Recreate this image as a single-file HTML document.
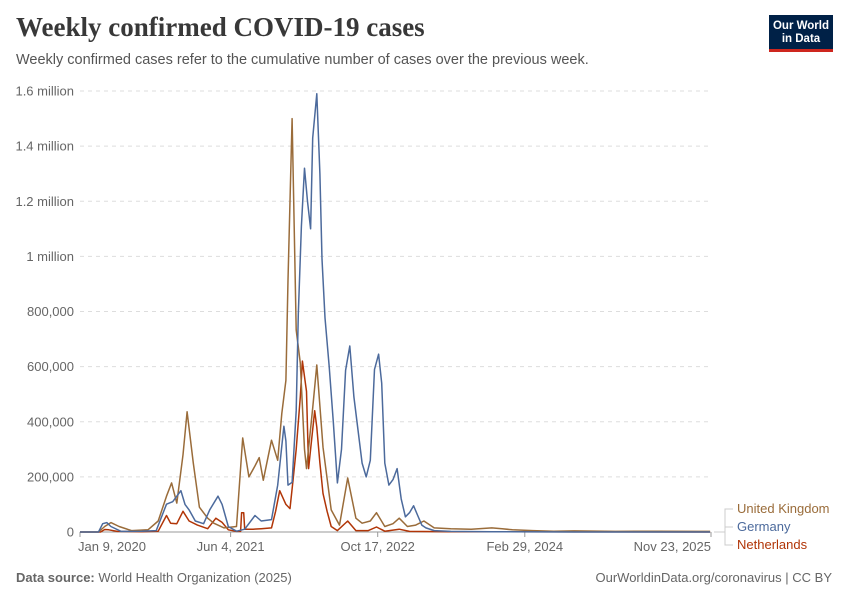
<!DOCTYPE html>
<html><head><meta charset="utf-8">
<style>
body{margin:0;background:#fff;font-family:"Liberation Sans",sans-serif;}
#wrap{position:relative;width:850px;height:600px;overflow:hidden;}
.title{position:absolute;left:16px;top:12px;font-family:"Liberation Serif",serif;font-weight:bold;font-size:27px;color:#383838;}
.sub{position:absolute;left:16px;top:52px;font-size:14.5px;color:#555;}
.logo{position:absolute;left:769px;top:15px;width:64px;height:37px;background:#002147;border-bottom:3px solid #ce261e;color:#fff;font-size:11.5px;font-weight:bold;text-align:center;line-height:13px;box-sizing:border-box;padding-top:5px;}
.foot{position:absolute;top:570px;font-size:13px;color:#666;}
</style></head><body>
<div id="wrap">
<div class="title">Weekly confirmed COVID-19 cases</div>
<div class="sub">Weekly confirmed cases refer to the cumulative number of cases over the previous week.</div>
<div class="logo">Our World<br>in Data</div>
<svg id="chart" width="850" height="600" style="position:absolute;left:0;top:0"></svg>
<div class="foot" style="left:16px"><b>Data source:</b> World Health Organization (2025)</div>
<div class="foot" style="right:18px">OurWorldinData.org/coronavirus | CC BY</div>
</div>
<script>
const yTicks=[0,200000,400000,600000,800000,1000000,1200000,1400000,1600000];
const yTickLabels=["0","200,000","400,000","600,000","800,000","1 million","1.2 million","1.4 million","1.6 million"];
const xTickDays=[0,512,1012,1512,2145];
const xTickLabels=["Jan 9, 2020","Jun 4, 2021","Oct 17, 2022","Feb 29, 2024","Nov 23, 2025"];
// week indices since Jan 9 2020, values in thousands
const ukWeeks=[0,9,12,15,19,25,33,38,42,44.5,47,50,52,55,58,62,65,70,76,79,82,85,87,89,93,96,98,100,101,103,105,107,109,110,113,115,118,122,126,130,134,137,141,144,148,152,155,159,163,167,172,180,190,200,205,210,220,230,240,260,280,300,306];
const ukVals=[0,0,20,34,20,5,8,40,130,178,105,280,436,250,90,50,32,15,20,341,200,240,270,188,333,260,430,550,914,1500,733,613,300,230,450,606,308,80,25,196,50,32,40,70,20,30,50,20,25,40,15,12,10,15,12,8,5,3,4,2,3,2,2];
const deWeeks=[0,9,11,13,15,20,30,37,42,45,49,51,53,56,60,63,67,69,72,76,80,85,88,93,96,99,100,101,103,105,106,107.5,109,110.5,112,113,115,116.5,117.5,119,121,123,125,127,129,131,133,135,137,139,141,143,145,146.5,148,150,152,154,156,158,160,162,164,166,168,172,180,200,240,306];
const deVals=[0,0,30,34,20,2,3,5,101,110,150,100,80,40,30,80,130,100,20,3,10,60,40,45,170,384,330,170,180,440,790,1110,1320,1200,1100,1430,1590,1300,990,777,600,400,178,300,587,675,490,370,250,200,260,590,645,540,250,170,190,230,120,55,70,95,60,25,15,5,2,1,0,0];
const nlWeeks=[0,10,12,14,18,30,38,42,44,47,50,53,57,62,66,69,72,76,78,78.5,79.5,80,84,88,93,95,97,100,102,103.5,105,107,108,110,111,112,114,115,116.5,118,120,122,125,130,134,140,144,148,155,160,180,306];
const nlVals=[0,0,9,8,2,1,3,60,32,30,75,40,25,12,50,35,8,2,2,70,70,10,10,12,15,75,150,100,85,190,300,490,620,510,230,300,440,380,250,140,75,20,5,40,5,5,18,3,10,2,1,0];
const svg=document.getElementById('chart');
const NS='http://www.w3.org/2000/svg';
const X0=80,X1=711,Y0=532,Y1=91;
const xDay=d=>X0+d*(X1-X0)/2145;
const xWeek=w=>xDay(w*7);
const yV=v=>Y0-(v/1600000)*(Y0-Y1);
function mk(tag,attrs){const e=document.createElementNS(NS,tag);for(const k in attrs)e.setAttribute(k,attrs[k]);svg.appendChild(e);return e;}
yTicks.forEach((t,i)=>{
 if(t>0){const g=mk('line',{x1:X0,x2:710,y1:yV(t),y2:yV(t),stroke:'#ddd','stroke-dasharray':'4,4'});
 
 }
 const l=mk('text',{x:74,y:yV(t)+4.5,'text-anchor':'end','font-size':13,fill:'#666','font-family':'Liberation Sans, sans-serif'});
 l.textContent=yTickLabels[i];
 
 
});
const ax=mk('line',{x1:X0,x2:710,y1:Y0,y2:Y0,stroke:'#999'});


xTickDays.forEach((d,i)=>{
 const tk=mk('line',{x1:xDay(d),x2:xDay(d),y1:Y0,y2:Y0+5,stroke:'#999'});
 
 
 const anchor=i==0?'start':(i==xTickDays.length-1?'end':'middle');
 const t=mk('text',{x:i==0?xDay(d)-2:xDay(d),y:551,'text-anchor':anchor,'font-size':13,fill:'#666','font-family':'Liberation Sans, sans-serif'});
 t.textContent=xTickLabels[i];
 
 
});
function series(ws,vs,color,name){
 const pts=ws.map((w,i)=>xWeek(w).toFixed(1)+','+yV(vs[i]*1000).toFixed(1)).join(' ');
 const p=mk('polyline',{points:pts,fill:'none',stroke:color,'stroke-width':1.5,'stroke-linejoin':'round'});
 
 
}
series(nlWeeks,nlVals,'#b13507','netherlands-line');
series(ukWeeks,ukVals,'#9a6c3a','uk-line');
series(deWeeks,deVals,'#4c6a9c','germany-line');
const legend=[["United Kingdom",'#9a6c3a',513],["Germany",'#4c6a9c',531],["Netherlands",'#b13507',549]];
legend.forEach(([n,c,y])=>{
 const cn=mk('polyline',{points:`714,532 725,532 725,${y-4} 733,${y-4}`,fill:'none',stroke:'#ccc'});
 
 
 const t=mk('text',{x:737,y:y,'font-size':13,fill:c,'font-family':'Liberation Sans, sans-serif'});
 t.textContent=n;
 
 
});
</script>
</body></html>
